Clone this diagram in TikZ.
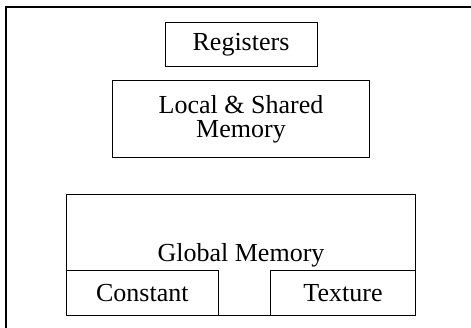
\documentclass[tikz,border=0pt]{standalone}
\usepackage{fontspec}
\setmainfont{Liberation Serif}
\usetikzlibrary{positioning}

\begin{document}
\begin{tikzpicture}[x=1pt,y=-1pt,node distance=13pt,
  memory/.style={draw,line width=0.8pt,inner sep=0pt,font=\fontsize{26}{24}\selectfont,align=center}]
  \useasboundingbox (0,0) rectangle (471,328);
  % outer frame, cut off at the right and bottom
  \begin{scope}
    \clip (0,0) rectangle (471,328);
    \draw[line width=2pt] (5.5,7) rectangle (490,345);
  \end{scope}
  \node[memory,minimum width=152pt,minimum height=44pt] (reg) at (241,44.7) {Registers};
  \node[memory,minimum width=257pt,minimum height=77pt,below=of reg] (local) {Local \& Shared\\Memory};
  \node[memory,minimum width=349pt,minimum height=121pt,below=36pt of local,
    label={[font=\fontsize{26}{24}\selectfont,anchor=base,yshift=54.5pt]south:Global Memory}] (global) {};
  % constant and texture sit in the bottom corners
  \node[memory,minimum width=151.6pt,minimum height=44.7pt,anchor=south west] (const) at (global.south west) {Constant};
  \node[memory,minimum width=145pt,minimum height=44.7pt,anchor=south east] (tex) at (global.south east) {Texture};
\end{tikzpicture}
\end{document}
